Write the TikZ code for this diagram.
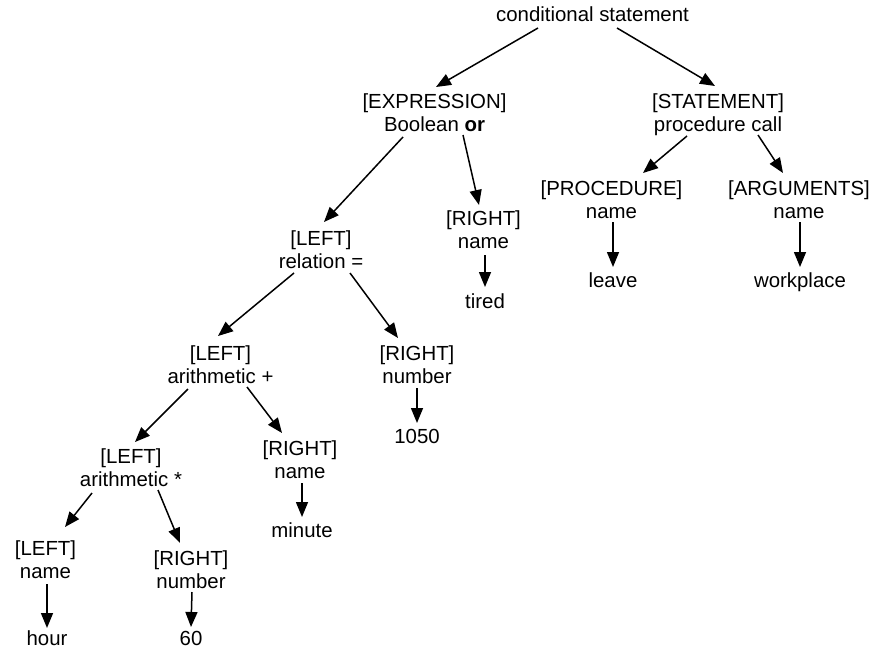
\documentclass[tikz,border=0pt]{standalone}
\usepackage{fontspec}
\setmainfont{Liberation Sans}
\usetikzlibrary{calc,arrows.meta}
\begin{document}
\begin{tikzpicture}[x=1pt,y=-1pt,
  lbl/.style={inner sep=0pt,align=center,font=\fontsize{20.4}{23}\selectfont},
  arr/.style={line width=1.5pt,-{Triangle[length=15pt,width=12pt]}}]
\useasboundingbox (0,0) rectangle (872,648);
% nodes
\node[lbl] (root) at (592.5,17.3) {\strut conditional statement};
\node[lbl] (expr) at (434.5,114.9) {\strut[EXPRESSION]\\\strut Boolean \textbf{or}};
\node[lbl] (stmt) at (718,114.9) {\strut[STATEMENT]\\\strut procedure call};
\node[lbl] (proc) at (611.5,201.9) {\strut[PROCEDURE]\\\strut name};
\node[lbl] (args) at (799,201.9) {\strut[ARGUMENTS]\\\strut name};
\node[lbl] (leave) at (613,282.4) {\strut leave};
\node[lbl] (work) at (800,282.4) {\strut workplace};
\node[lbl] (rname) at (483.5,231.9) {\strut[RIGHT]\\\strut name};
\node[lbl] (tired) at (485,303.4) {\strut tired};
\node[lbl] (rel) at (321,251.9) {\strut[LEFT]\\\strut relation =};
\node[lbl] (arithp) at (220.5,366.9) {\strut[LEFT]\\\strut arithmetic +};
\node[lbl] (rnum) at (417,366.9) {\strut[RIGHT]\\\strut number};
\node[lbl] (n1050) at (417,438.4) {\strut 1050};
\node[lbl] (arithm) at (131,469.9) {\strut[LEFT]\\\strut arithmetic *};
\node[lbl] (rname2) at (300,461.9) {\strut[RIGHT]\\\strut name};
\node[lbl] (minute) at (302,532.4) {\strut minute};
\node[lbl] (lname) at (45.5,561.9) {\strut[LEFT]\\\strut name};
\node[lbl] (rnum2) at (191,571.9) {\strut[RIGHT]\\\strut number};
\node[lbl] (hour) at (47,640.4) {\strut hour};
\node[lbl] (sixty) at (191,640.4) {\strut 60};
% connectors
\draw[arr] ($(root)+(-54.5,10.7)$) -- ($(expr)+(1.5,-27.9)$);
\draw[arr] ($(root)+(24.5,10.7)$) -- ($(stmt)+(-3,-28.9)$);
\draw[arr] ($(expr)+(-31.5,22.1)$) -- ($(rel)+(3,-29.9)$);
\draw[arr] ($(expr)+(28.5,20.1)$) -- ($(rname)+(-4.5,-26.9)$);
\draw[arr] ($(stmt)+(-31,21.1)$) -- ($(proc)+(31.5,-28.9)$);
\draw[arr] ($(stmt)+(40,20.1)$) -- ($(args)+(-16,-28.9)$);
\draw[arr] ($(proc)+(1.5,20.1)$) -- ($(leave)+(0,-15.4)$);
\draw[arr] ($(args)+(1,20.1)$) -- ($(work)+(0,-15.4)$);
\draw[arr] ($(rname)+(1.5,23.1)$) -- ($(tired)+(0,-16.4)$);
\draw[arr] ($(rel)+(-27,21.1)$) -- ($(arithp)+(-2.5,-30.9)$);
\draw[arr] ($(rel)+(29,21.1)$) -- ($(rnum)+(-19,-28.9)$);
\draw[arr] ($(rnum)+(0,21.1)$) -- ($(n1050)+(0,-15.4)$);
\draw[arr] ($(arithp)+(-32.5,22.1)$) -- ($(arithm)+(4,-27.9)$);
\draw[arr] ($(arithp)+(26.5,20.1)$) -- ($(rname2)+(-18,-28.9)$);
\draw[arr] ($(rname2)+(2,21.1)$) -- ($(minute)+(0,-15.4)$);
\draw[arr] ($(arithm)+(-39,23.1)$) -- ($(lname)+(19.5,-34.9)$);
\draw[arr] ($(arithm)+(27,20.1)$) -- ($(rnum2)+(-11,-28.9)$);
\draw[arr] ($(lname)+(1.5,22.1)$) -- ($(hour)+(0,-12.4)$);
\draw[arr] ($(rnum2)+(1,20.1)$) -- ($(sixty)+(0,-13.4)$);
\end{tikzpicture}
\end{document}
